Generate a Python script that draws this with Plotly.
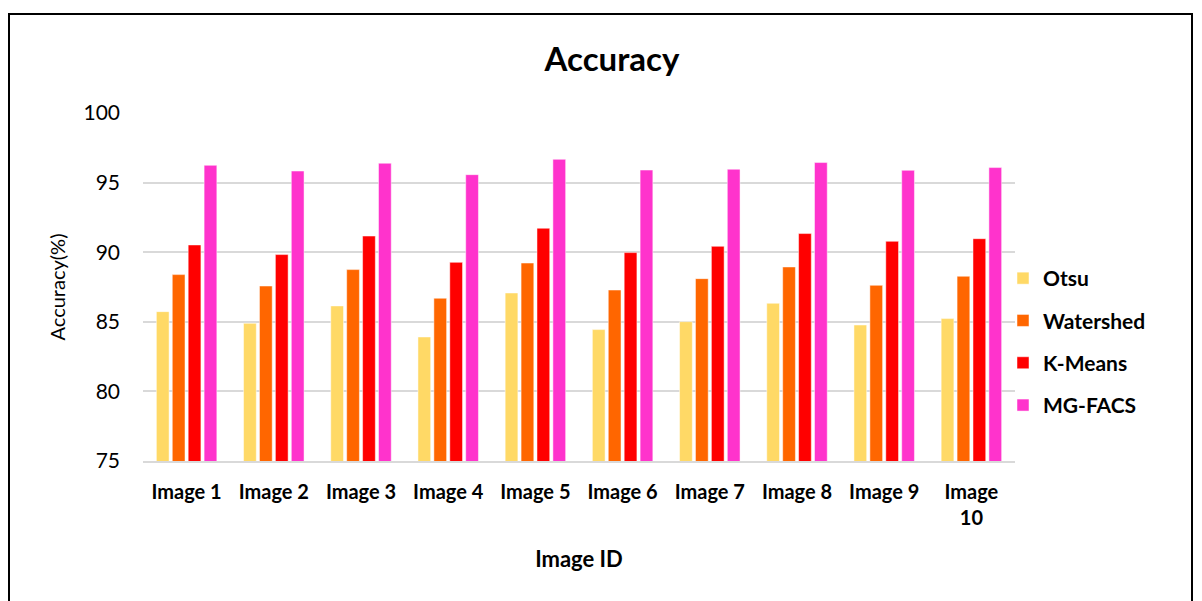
import plotly.graph_objects as go

categories = ["Image 1", "Image 2", "Image 3", "Image 4", "Image 5",
              "Image 6", "Image 7", "Image 8", "Image 9", "Image<br>10"]

otsu = [85.73, 84.89, 86.14, 83.91, 87.07, 84.44, 85.01, 86.33, 84.77, 85.23]
watershed = [88.39, 87.57, 88.75, 86.69, 89.22, 87.28, 88.10, 88.94, 87.62, 88.27]
kmeans = [90.52, 89.83, 91.16, 89.27, 91.72, 89.97, 90.42, 91.34, 90.78, 90.97]
mgfacs = [96.24, 95.83, 96.39, 95.57, 96.67, 95.90, 95.96, 96.44, 95.88, 96.08]

series = [
    ("Otsu", otsu, "#FFD966"),
    ("Watershed", watershed, "#FF6600"),
    ("K-Means", kmeans, "#FF0000"),
    ("MG-FACS", mgfacs, "#FF33CC"),
]

FONT = "Lato, Carlito, Calibri, sans-serif"

fig = go.Figure()
for name, vals, color in series:
    fig.add_trace(go.Bar(
        x=categories, y=vals, name=f"<b>{name}</b>", legendgroup=name,
        marker=dict(color=color, line=dict(color="rgba(255,255,255,0.6)", width=0.8)),
    ))

# Plot-area edges in pixels, used to place paper-anchored items
L, R, T, B = 143, 1015, 113, 461
def px_x(v):
    return (v - L) / (R - L)
def px_y(v):
    return (B - v) / (B - T)

# Outer frame around the whole chart
fig.add_shape(type="rect", xref="paper", yref="paper",
              x0=px_x(9), x1=px_x(1192), y0=px_y(612), y1=px_y(14),
              line=dict(color="black", width=2), fillcolor="rgba(0,0,0,0)")

fig.update_layout(
    width=1202, height=601,
    margin=dict(l=L, r=1202 - R, t=T, b=601 - B, autoexpand=False),
    paper_bgcolor="white", plot_bgcolor="white",
    font=dict(family=FONT, color="black"),
    title=dict(text="<b>Accuracy</b>", x=px_x(612), xref="paper", xanchor="center",
               y=1 - 59 / 601, yanchor="middle", font=dict(size=33, family=FONT)),
    barmode="group", bargap=0.27, bargroupgap=0.2,
    legend=dict(x=px_x(1003), xanchor="left", y=px_y(258), yanchor="top",
                font=dict(size=21, family=FONT), tracegroupgap=12,
                itemwidth=30, bgcolor="rgba(0,0,0,0)"),
    showlegend=True,
)

fig.update_yaxes(range=[75, 100], dtick=5, showgrid=True, gridcolor="#d9d9d9",
                 gridwidth=1.5, zeroline=False, showline=False,
                 tickfont=dict(size=21, family=FONT), ticks="", ticklabelstandoff=22,
                 title=dict(text="Accuracy(%)", font=dict(size=20, family=FONT), standoff=12))
fig.update_xaxes(showgrid=False, showline=True, linecolor="#d9d9d9", linewidth=2,
                 ticks="", tickfont=dict(size=20, family=FONT), ticklabelstandoff=12,
                 tickangle=0,
                 title=dict(text="<b>Image ID</b>", font=dict(size=22, family=FONT), standoff=24))
fig.update_xaxes(ticktext=[f"<b>{c}</b>" for c in categories], tickvals=categories)

fig.write_html("out.html")
